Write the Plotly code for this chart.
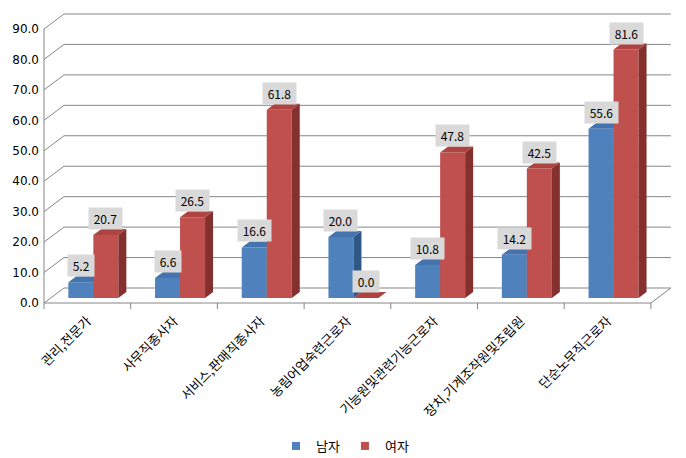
import plotly.graph_objects as go

# ---------------- data ----------------
categories = ["관리,전문가", "사무직종사자", "서비스,판매직종사자", "농림어업숙련근로자",
              "기능원및관련기능근로자", "장치,기계조작원및조립원", "단순노무직근로자"]
male = [5.2, 6.6, 16.6, 20.0, 10.8, 14.2, 55.6]
female = [20.7, 26.5, 61.8, 0.0, 47.8, 42.5, 81.6]
series_names = ["남자", "여자"]
y_ticks = [0, 10, 20, 30, 40, 50, 60, 70, 80, 90]

# ---------------- style / geometry (pixels) ----------------
W, H = 686, 458
PLOT_L, PLOT_R, PLOT_T, PLOT_B = 42, 674, 10, 310
FRONT_X0 = 44          # pixel of the left front edge
CAT_PX = 86.7          # pixel width of one category
ZERO_PX = 303          # pixel of value 0 on the front plane
UNIT_PX = 274 / 90     # pixels per value unit
WALL_DX_PX, WALL_DY_PX = 20, 15
BAR_W_PX = 25
BAR_LIFT_PX = 5
BAR_SHIFT_PX = 6
BAR_DX_PX, BAR_DY_PX = 8, 6
TICK_PX = 6

FRAME_COLOR = "#868686"
FACE_COLORS = [
    dict(front="#4F81BD", top="#4573AE", side="#2F5886"),
    dict(front="#C0504D", top="#AE4341", side="#84302E"),
]
LABEL_BG = "#D9D9D9"
FONT_KR = "Noto Sans CJK KR"


def xu(px):
    return px / CAT_PX


def yu(px):
    return px / UNIT_PX


n = len(categories)
left, right = -0.5, n - 0.5
x_range = [left - xu(FRONT_X0 - PLOT_L), left + xu(PLOT_R - FRONT_X0)]
y_range = [-yu(PLOT_B - ZERO_PX), yu(ZERO_PX - PLOT_T)]
wdx, wdy = xu(WALL_DX_PX), yu(WALL_DY_PX)

fig = go.Figure()

# ---------------- 3D frame (walls, gridlines, axis edges) ----------------
fx, fy = [], []


def seg(x0, y0, x1, y1):
    fx.extend([x0, x1, None])
    fy.extend([y0, y1, None])


for v in y_ticks:
    seg(left + wdx, v + wdy, right + wdx, v + wdy)   # back wall gridline
    seg(left, v, left + wdx, v + wdy)                # side wall gridline
seg(left, 0, left, max(y_ticks))                     # front vertical axis
seg(left, 0, right, 0)                               # front floor edge
seg(right, 0, right + wdx, wdy)                      # right floor edge
for k in range(n + 1):                               # category tick marks
    seg(left + k, 0, left + k, -yu(TICK_PX))

fig.add_trace(go.Scatter(x=fx, y=fy, mode="lines",
                         line=dict(color=FRAME_COLOR, width=1),
                         hoverinfo="skip", showlegend=False))

# ---------------- bars ----------------
bw = xu(BAR_W_PX)
base = yu(BAR_LIFT_PX)
bdx, bdy = xu(BAR_DX_PX), yu(BAR_DY_PX)
annotations = []

for s, values in enumerate([male, female]):
    faces = {"front": ([], []), "top": ([], []), "side": ([], [])}
    for i, v in enumerate(values):
        c = i + xu(BAR_SHIFT_PX)
        xl = c - bw + s * bw
        xr = xl + bw
        top = base + v
        fxs, fys = faces["front"]
        fxs.extend([xl, xr, xr, xl, xl, None])
        fys.extend([base, base, top, top, base, None])
        txs, tys = faces["top"]
        txs.extend([xl, xr, xr + bdx, xl + bdx, xl, None])
        tys.extend([top, top, top + bdy, top + bdy, top, None])
        sxs, sys_ = faces["side"]
        sxs.extend([xr, xr + bdx, xr + bdx, xr, xr, None])
        sys_.extend([base, base + bdy, top + bdy, top, base, None])
        annotations.append(dict(
            x=(xl + xr) / 2, y=top, xref="x", yref="y",
            text="\u00a0" + f"{v:.1f}" + "\u00a0",
            showarrow=False, yanchor="bottom", xanchor="center",
            yshift=BAR_DY_PX - 1, bgcolor=LABEL_BG, borderpad=2,
            font=dict(family=FONT_KR, size=12, color="#000000")))
    for key in ["front", "top", "side"]:
        xs, ys = faces[key]
        fig.add_trace(go.Scatter(x=xs, y=ys, mode="lines", fill="toself",
                                 fillcolor=FACE_COLORS[s][key],
                                 line=dict(width=0, color=FACE_COLORS[s][key]),
                                 hoverinfo="skip", showlegend=False))

# legend entries
for s, name in enumerate(series_names):
    fig.add_trace(go.Scatter(x=[None], y=[None], mode="markers", name=name,
                             marker=dict(symbol="square", size=8,
                                         color=FACE_COLORS[s]["front"])))

plot_w = PLOT_R - PLOT_L
plot_h = PLOT_B - PLOT_T
fig.update_layout(
    width=W, height=H,
    margin=dict(l=PLOT_L, r=W - PLOT_R, t=PLOT_T, b=H - PLOT_B, pad=0, autoexpand=False),
    paper_bgcolor="white", plot_bgcolor="white",
    showlegend=True,
    legend=dict(orientation="h", x=(345 - PLOT_L) / plot_w, xanchor="center",
                y=(PLOT_B - 446) / plot_h, yanchor="middle",
                font=dict(family=FONT_KR, size=13, color="#000000"),
                bgcolor="rgba(0,0,0,0)"),
    annotations=annotations,
    xaxis=dict(range=x_range, tickvals=list(range(n)), ticktext=categories,
               tickangle=-45, showgrid=False, zeroline=False, showline=False,
               ticks="", automargin=False, fixedrange=True,
               tickfont=dict(family=FONT_KR, size=13, color="#000000")),
    yaxis=dict(range=y_range, tickvals=y_ticks,
               ticktext=[f"{v:.1f}" for v in y_ticks],
               showgrid=False, zeroline=False, showline=False, ticks="",
               automargin=False, fixedrange=True, ticklabelstandoff=2,
               tickfont=dict(family="DejaVu Sans", size=12, color="#000000")),
)

fig.write_html("out.html")
